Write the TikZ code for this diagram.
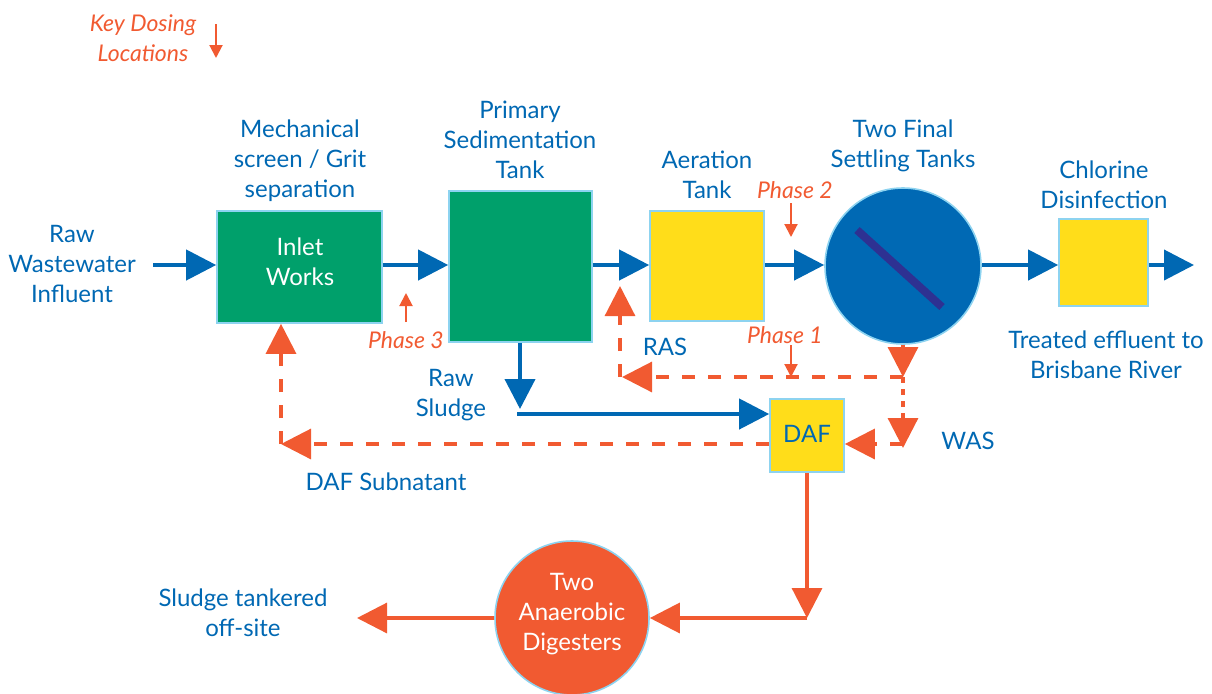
\documentclass[tikz,border=0pt]{standalone}
\usepackage{fontspec}
\setmainfont{Lato}
\usetikzlibrary{arrows.meta}
\definecolor{tblue}{HTML}{0068B3}
\definecolor{cblue}{HTML}{0069B4}
\definecolor{gfill}{HTML}{00A06B}
\definecolor{yfill}{HTML}{FFDD1A}
\definecolor{orng}{HTML}{F15A31}
\definecolor{lb}{HTML}{8DD3F0}
\definecolor{navy}{HTML}{2E3192}
\tikzset{
  lbl/.style={text=tblue, align=center, font=\fontsize{12}{15}\selectfont, inner sep=0pt},
  phase/.style={text=orng, align=center, font=\fontsize{11.5}{15}\selectfont\itshape, inner sep=0pt},
  boxg/.style={draw=lb, line width=0.8pt, fill=gfill, text=white, align=center, font=\fontsize{12}{15}\selectfont, inner sep=0pt},
  boxy/.style={draw=lb, line width=0.8pt, fill=yfill, text=tblue, align=center, font=\fontsize{12}{15}\selectfont, inner sep=0pt},
  bflow/.style={draw=tblue, line width=2pt, -{Triangle[length=15pt,width=15pt]}, color=tblue},
  oflow/.style={draw=orng, line width=1.6pt, -{Triangle[length=15pt,width=15pt]}, color=orng},
  odash/.style={oflow, dash pattern=on 6.5pt off 6.5pt},
  odot/.style={oflow, dash pattern=on 3pt off 3pt},
  dose/.style={draw=orng, line width=1pt, -{Triangle[length=6.5pt,width=6.5pt]}, color=orng},
}
\begin{document}
\begin{tikzpicture}[x=0.5pt,y=-0.5pt]
\useasboundingbox (0,0) rectangle (1212,693);
% key
\node[phase] (key) at (143,38) {Key Dosing\\Locations};
\coordinate (k1) at (216,24);
\coordinate (k2) at (216,58);
\draw[dose] (k1) -- (k2);
% nodes
\node[boxg, minimum width=82.5pt, minimum height=56pt] (inlet) at (299.5,267) {};
\node[text=white, align=center, font=\fontsize{12}{15}\selectfont, inner sep=0pt] (inlettxt) at (300,262) {Inlet\\Works};
\node[boxg, minimum width=71.5pt, minimum height=75.5pt] (prim) at (520.5,266.5) {};
\node[boxy, minimum width=57pt, minimum height=55pt] (aer) at (707,266) {};
\node[circle, draw=lb, line width=0.8pt, fill=cblue, minimum size=78pt, inner sep=0pt] (fst) at (903,266) {};
\draw[navy, line width=4pt] (857,230) -- (942,307);
\node[boxy, minimum width=44.5pt, minimum height=43.5pt] (chl) at (1103.5,262.5) {};
\node[boxy, minimum width=37pt, minimum height=36.5pt] (daf) at (807,435.5) {};
\node[text=tblue, font=\fontsize{12}{15}\selectfont, inner sep=0pt] (daftxt) at (807,434) {DAF};
\node[circle, draw=lb, line width=0.8pt, fill=orng, minimum size=77pt, inner sep=0pt] (dig) at (572,618) {};
\node[text=white, align=center, font=\fontsize{12}{15}\selectfont, inner sep=0pt] (digtxt) at (572,614) {Two\\Anaerobic\\Digesters};
% labels
\node[lbl] (lraw) at (72,264) {Raw\\Wastewater\\Influent};
\node[lbl] (linlet) at (300,161) {Mechanical\\screen / Grit\\separation};
\node[lbl] (lprim) at (520,140) {Primary\\Sedimentation\\Tank};
\node[lbl] (laer) at (707,175) {Aeration\\Tank};
\node[lbl] (lfst) at (903,146) {Two Final\\Settling Tanks};
\node[lbl] (lchl) at (1104,185) {Chlorine\\Disinfection};
\node[lbl] (ltreat) at (1106,355) {Treated effluent to\\Brisbane River};
\node[lbl] (lras) at (665,347) {RAS};
\node[lbl] (lwas) at (968,441) {WAS};
\node[lbl] (lsludge) at (451,395) {Raw\\Sludge};
\node[lbl] (lsub) at (386,482) {DAF Subnatant};
\node[lbl] (ltank) at (243,613) {Sludge tankered\\off-site};
\node[phase] (p3) at (406,340) {Phase 3};
\node[phase] (p2) at (795,190) {Phase 2};
\node[phase] (p1) at (785,335) {Phase 1};
% main flow
\coordinate (rawend) at (153,265);
\coordinate (outend) at (1194,265);
\draw[bflow] (rawend) -- (rawend -| inlet.west);
\draw[bflow] (inlet.east |- rawend) -- (prim.west |- rawend);
\draw[bflow] (prim.east |- rawend) -- (aer.west |- rawend);
\draw[bflow] (aer.east |- rawend) -- (fst.west |- rawend);
\draw[bflow] (fst.east |- rawend) -- (chl.west |- rawend);
\draw[bflow] (chl.east |- rawend) -- (outend);
% dosing
\coordinate (p3a) at (406,322);
\coordinate (p3b) at (406,293);
\draw[dose] (p3a) -- (p3b);
\coordinate (p2a) at (791,203);
\coordinate (p2b) at (791,237);
\draw[dose] (p2a) -- (p2b);
\coordinate (p1a) at (791,345);
\coordinate (p1b) at (791,377);
\draw[dose] (p1a) -- (p1b);
% RAS / WAS
\coordinate (split) at (903,377);
\coordinate (rascorner) at (620,377);
\coordinate (rastip) at (620,286);
\coordinate (wastip) at (903,448);
\coordinate (wasline) at (903,444);
\draw[oflow] (fst.south) -- (split);
\draw[odash] (split) -- (622,377);
\draw[odash] (rascorner) -- (rastip);
\draw[odot] (split) -- (wastip);
\draw[odash] (wasline) -- (wasline -| daf.east);
% raw sludge
\coordinate (rstip) at (520,409);
\coordinate (rsline) at (517,414);
\draw[bflow] (prim.south -| rstip) -- (rstip);
\draw[bflow] (rsline) -- (rsline -| daf.west);
% DAF subnatant
\coordinate (subcorner) at (281,444);
\draw[odash] (wasline -| daf.west) -- (subcorner);
\draw[odash] (subcorner) -- (subcorner |- inlet.south);
% sludge
\coordinate (dcorner) at (807,618);
\coordinate (tankend) at (357,618);
\draw[oflow, solid] (daf.south) -- (dcorner);
\draw[oflow] (dcorner) -- (dig.east);
\draw[oflow] (dig.west) -- (tankend);
\end{tikzpicture}
\end{document}
